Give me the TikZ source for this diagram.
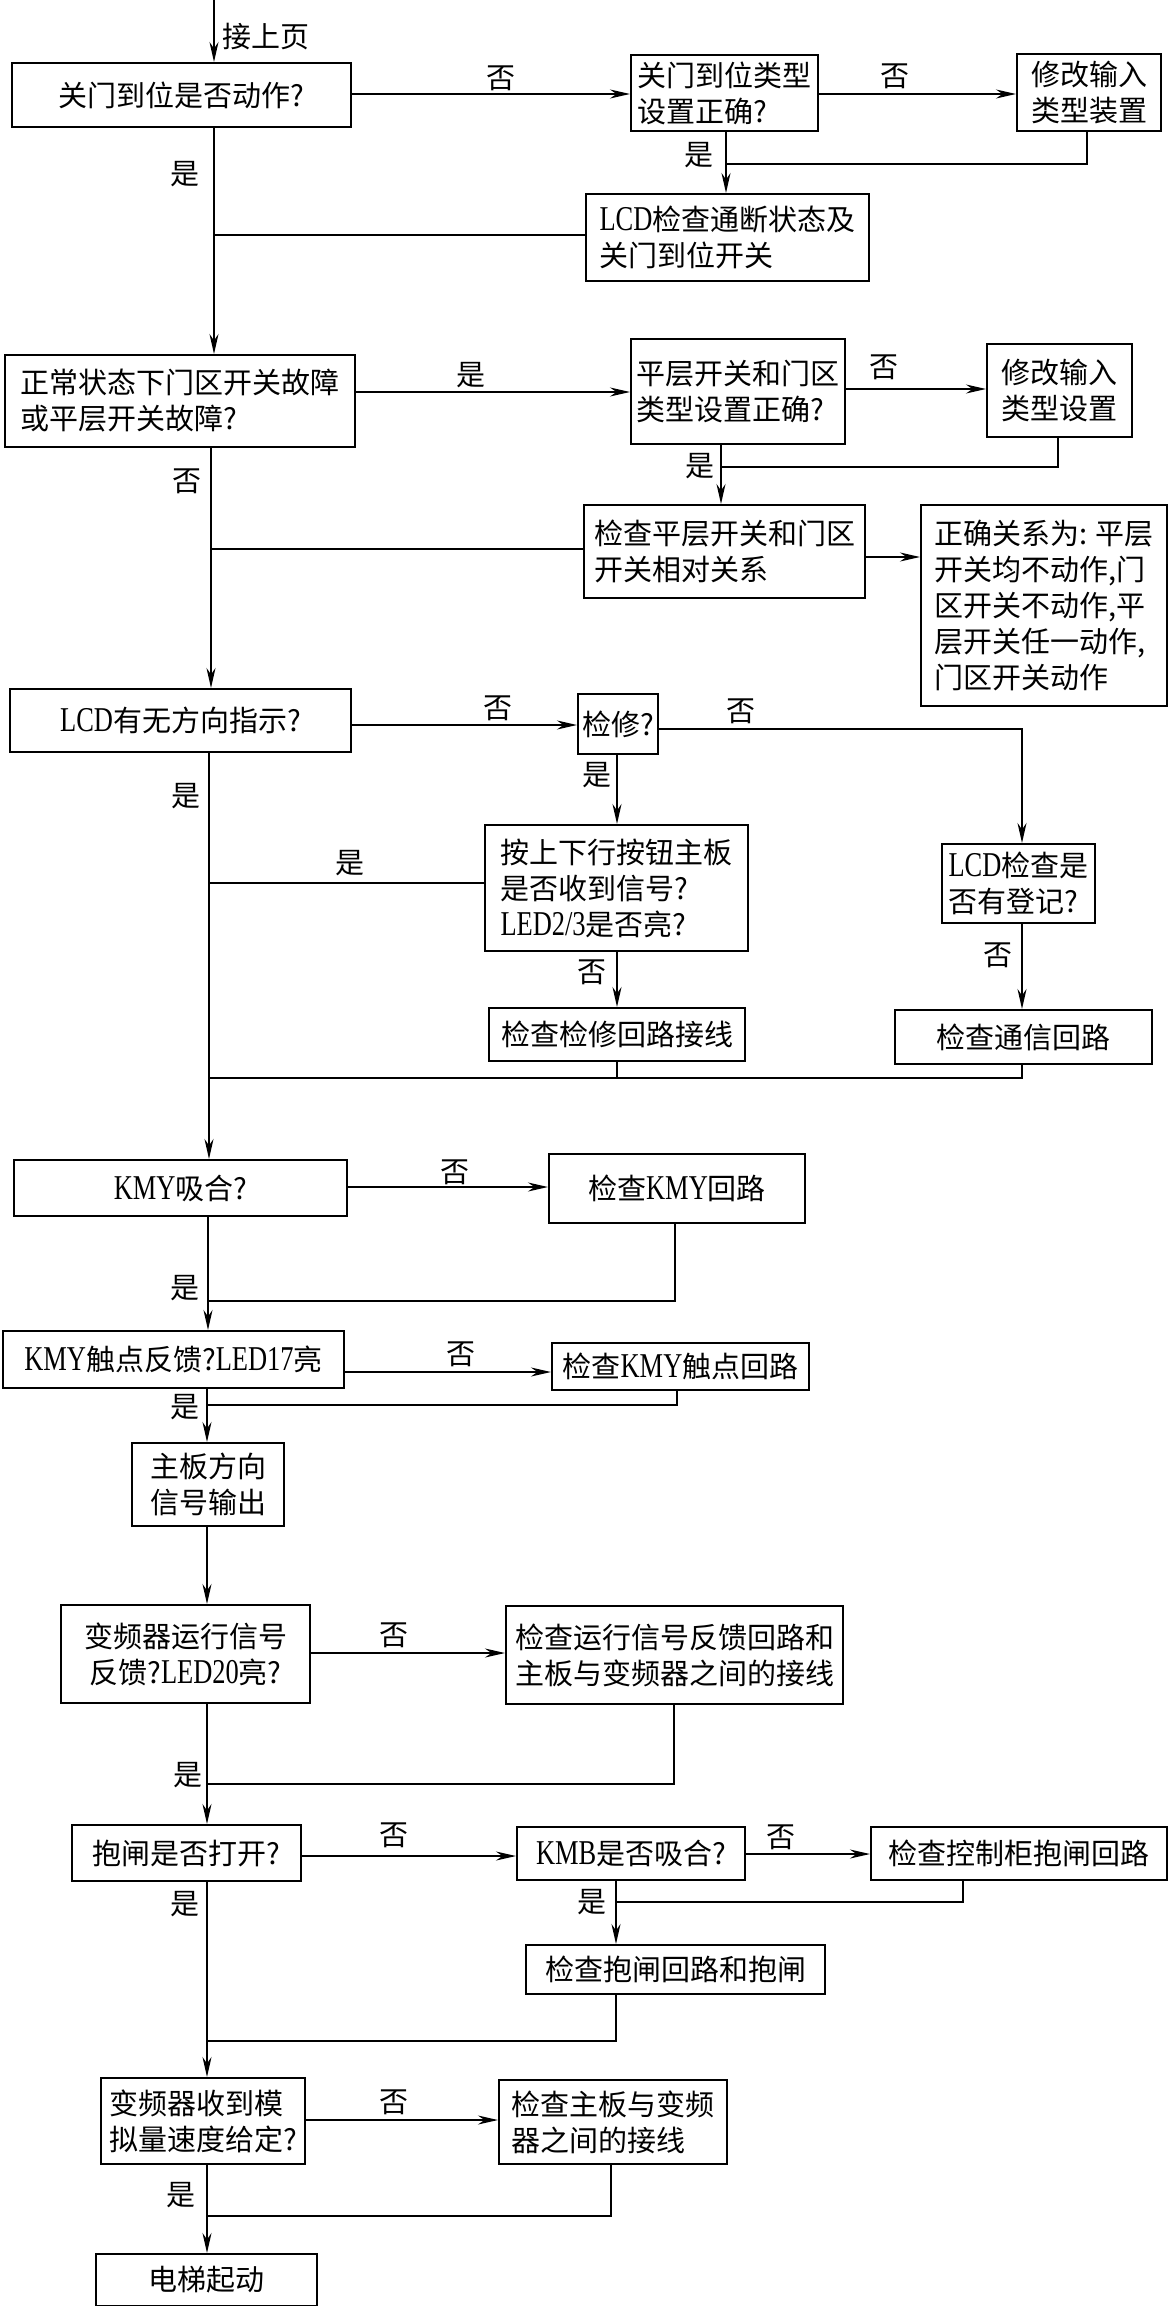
\documentclass[tikz,border=0pt]{standalone}
\usepackage{fontspec}
\setmainfont{Noto Sans CJK SC}
\newfontfamily\lat[FakeStretch=0.76,Scale=1.2]{Liberation Serif}
\usetikzlibrary{arrows.meta}
\newcommand{\myfs}{\fontsize{29}{36}\selectfont}
\begin{document}
\begin{tikzpicture}[x=1pt,y=-1pt,
  box/.style={draw, line width=2pt, anchor=north west, inner sep=3pt, font=\myfs},
  ln/.style={line width=1.8pt},
  arr/.style={line width=1.8pt, -{Stealth[length=20pt,width=9pt]}},
  lbl/.style={inner sep=0pt, font=\myfs}]
\useasboundingbox (0,0) rectangle (1167,2306);
\fill[white] (0,0) rectangle (1167,2306);

% boxes
\node[box, minimum width=339pt, minimum height=64pt, align=center] (b1) at (11,62) {关门到位是否动作?};
\node[box, minimum width=187pt, minimum height=76pt, align=left] (b2) at (630,54) {关门到位类型\\设置正确?};
\node[box, minimum width=144pt, minimum height=77pt, align=left] (b3) at (1016,53) {修改输入\\类型装置};
\node[box, minimum width=283pt, minimum height=87pt, align=left] (b4) at (585,193) {{\lat LCD}检查通断状态及\\关门到位开关};
\node[box, minimum width=350pt, minimum height=92pt, align=left] (b5) at (4,354) {正常状态下门区开关故障\\或平层开关故障?};
\node[box, minimum width=214pt, minimum height=105pt, align=left] (b6) at (630,338) {平层开关和门区\\类型设置正确?};
\node[box, minimum width=145pt, minimum height=93pt, align=left] (b7) at (986,343) {修改输入\\类型设置};
\node[box, minimum width=281pt, minimum height=93pt, align=left] (b8) at (583,504) {检查平层开关和门区\\开关相对关系};
\node[box, minimum width=246pt, minimum height=201pt, align=left] (b9) at (920,504) {正确关系为: 平层\\开关均不动作,门\\区开关不动作,平\\层开关任一动作,\\门区开关动作};
\node[box, minimum width=341pt, minimum height=63pt, align=center] (b10) at (9,688) {{\lat LCD}有无方向指示?};
\node[box, minimum width=80pt, minimum height=60pt, inner sep=1pt, align=center] (b11) at (577,693) {检修?};
\node[box, minimum width=263pt, minimum height=126pt, align=left] (b12) at (484,824) {按上下行按钮主板\\是否收到信号?\\{\lat LED2/3}是否亮?};
\node[box, minimum width=153pt, minimum height=79pt, align=left] (b13) at (941,843) {{\lat LCD}检查是\\否有登记?};
\node[box, minimum width=256pt, minimum height=53pt, align=center] (b14) at (488,1007) {检查检修回路接线};
\node[box, minimum width=257pt, minimum height=54pt, align=center] (b15) at (894,1009) {检查通信回路};
\node[box, minimum width=333pt, minimum height=56pt, align=center] (b16) at (13,1159) {{\lat KMY}吸合?};
\node[box, minimum width=256pt, minimum height=69pt, align=center] (b17) at (548,1153) {检查{\lat KMY}回路};
\node[box, minimum width=341pt, minimum height=57pt, align=center] (b18) at (2,1330) {{\lat KMY}触点反馈?{\lat LED17}亮};
\node[box, minimum width=257pt, minimum height=47pt, align=center] (b19) at (551,1342) {检查{\lat KMY}触点回路};
\node[box, minimum width=152pt, minimum height=83pt, align=center] (b20) at (131,1442) {主板方向\\信号输出};
\node[box, minimum width=249pt, minimum height=98pt, align=center] (b21) at (60,1604) {变频器运行信号\\反馈?{\lat LED20}亮?};
\node[box, minimum width=337pt, minimum height=98pt, align=left] (b22) at (505,1605) {检查运行信号反馈回路和\\主板与变频器之间的接线};
\node[box, minimum width=229pt, minimum height=56pt, align=center] (b23) at (71,1824) {抱闸是否打开?};
\node[box, minimum width=228pt, minimum height=53pt, align=center] (b24) at (516,1826) {{\lat KMB}是否吸合?};
\node[box, minimum width=296pt, minimum height=53pt, align=center] (b25) at (870,1826) {检查控制柜抱闸回路};
\node[box, minimum width=299pt, minimum height=49pt, align=center] (b26) at (525,1944) {检查抱闸回路和抱闸};
\node[box, minimum width=204pt, minimum height=86pt, align=left] (b27) at (100,2077) {变频器收到模\\拟量速度给定?};
\node[box, minimum width=228pt, minimum height=84pt, align=left] (b28) at (498,2079) {检查主板与变频\\器之间的接线};
\node[box, minimum width=221pt, minimum height=52pt, align=center] (b29) at (95,2253) {电梯起动};

% section 1
\coordinate (top) at (214,0);
\draw[arr] (top) -- (top |- b1.north);
\node[lbl, anchor=west] (t0) at (222,37) {接上页};
\draw[arr] (b1.east |- 0,94) -- (b2.west |- 0,94);
\node[lbl] (l1) at (501,78) {否};
\draw[arr] (b2.east |- 0,94) -- (b3.west |- 0,94);
\node[lbl] (l2) at (895,76) {否};
\draw[arr] (b2.south -| 726,0) -- (b4.north -| 726,0);
\node[lbl] (l3) at (699,155) {是};
\coordinate (j1) at (726,164);
\draw[ln] (b3.south -| 1087,0) |- (j1);
\draw[ln] (b4.west |- 0,235) -- (214,235);
\draw[arr] (b1.south -| 214,0) -- (b5.north -| 214,0);
\node[lbl] (l4) at (185,174) {是};

% section 2
\draw[arr] (b5.east |- 0,392) -- (b6.west |- 0,392);
\node[lbl] (l5) at (471,375) {是};
\draw[arr] (b6.east |- 0,389) -- (b7.west |- 0,389);
\node[lbl] (l6) at (884,367) {否};
\draw[arr] (b6.south -| 721,0) -- (b8.north -| 721,0);
\node[lbl] (l7) at (700,466) {是};
\coordinate (j2) at (721,467);
\draw[ln] (b7.south -| 1058,0) |- (j2);
\draw[ln] (b8.west |- 0,549) -- (211,549);
\draw[arr] (b8.east |- 0,557) -- (b9.west |- 0,557);
\draw[arr] (b5.south -| 211,0) -- (b10.north -| 211,0);
\node[lbl] (l8) at (187,481) {否};

% section 3
\draw[arr] (b10.east |- 0,725) -- (b11.west |- 0,725);
\node[lbl] (l9) at (498,708) {否};
\draw[arr] (b11.east |- 0,729) -| (b13.north -| 1022,0);
\node[lbl] (l10) at (741,711) {否};
\draw[arr] (b11.south -| 617,0) -- (b12.north -| 617,0);
\node[lbl] (l11) at (597,775) {是};
\draw[ln] (b12.west |- 0,883) -- (209,883);
\node[lbl] (l12) at (350,863) {是};
\draw[arr] (b12.south -| 617,0) -- (b14.north -| 617,0);
\node[lbl] (l13) at (592,972) {否};
\draw[arr] (b13.south -| 1022,0) -- (b15.north -| 1022,0);
\node[lbl] (l14) at (998,955) {否};
\draw[ln] (b15.south -| 1022,0) |- (209,1078);
\draw[ln] (b14.south -| 617,0) -- (617,1078);
\draw[arr] (b10.south -| 209,0) -- (b16.north -| 209,0);
\node[lbl] (l15) at (186,796) {是};

% section 4
\draw[arr] (b16.east |- 0,1187) -- (b17.west |- 0,1187);
\node[lbl] (l16) at (455,1172) {否};
\draw[ln] (b17.south -| 675,0) |- (208,1301);
\draw[arr] (b16.south -| 208,0) -- (b18.north -| 208,0);
\node[lbl] (l17) at (185,1288) {是};
\draw[arr] (b18.east |- 0,1372) -- (b19.west |- 0,1372);
\node[lbl] (l18) at (461,1354) {否};
\draw[ln] (b19.south -| 677,0) |- (207,1405);
\draw[arr] (b18.south -| 207,0) -- (b20.north -| 207,0);
\node[lbl] (l19) at (185,1407) {是};
\draw[arr] (b20.south -| 207,0) -- (b21.north -| 207,0);

% section 5
\draw[arr] (b21.east |- 0,1653) -- (b22.west |- 0,1653);
\node[lbl] (l20) at (394,1635) {否};
\draw[ln] (b22.south -| 674,0) |- (207,1784);
\draw[arr] (b21.south -| 207,0) -- (b23.north -| 207,0);
\node[lbl] (l21) at (188,1775) {是};
\draw[arr] (b23.east |- 0,1856) -- (b24.west |- 0,1856);
\node[lbl] (l22) at (394,1835) {否};
\draw[arr] (b24.east |- 0,1854) -- (b25.west |- 0,1854);
\node[lbl] (l23) at (781,1837) {否};
\coordinate (j3) at (616,1902);
\draw[ln] (b25.south -| 963,0) |- (j3);
\draw[arr] (b24.south -| 616,0) -- (b26.north -| 616,0);
\node[lbl] (l24) at (592,1902) {是};
\draw[ln] (b26.south -| 616,0) |- (207,2041);
\draw[arr] (b23.south -| 207,0) -- (b27.north -| 207,0);
\node[lbl] (l25) at (185,1904) {是};

% section 6
\draw[arr] (b27.east |- 0,2120) -- (b28.west |- 0,2120);
\node[lbl] (l26) at (394,2102) {否};
\draw[ln] (b28.south -| 611,0) |- (207,2216);
\draw[arr] (b27.south -| 207,0) -- (b29.north -| 207,0);
\node[lbl] (l27) at (181,2195) {是};
\end{tikzpicture}
\end{document}
